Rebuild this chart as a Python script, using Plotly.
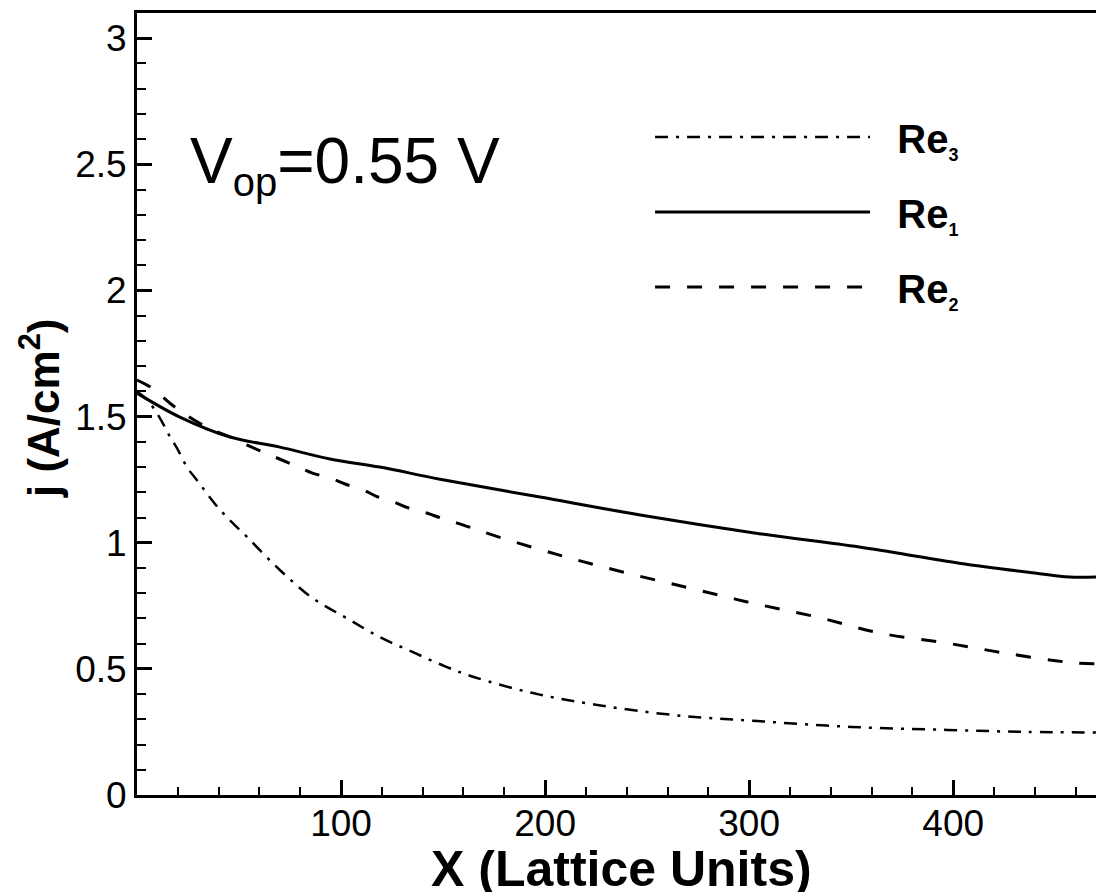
import plotly.graph_objects as go

# ---- data ----
x_re1 = [0, 21, 45.6, 70, 94.6, 119, 148.5, 197.5, 246.6, 305, 354, 403, 440, 457, 470]
y_re1 = [1.593, 1.498, 1.419, 1.379, 1.332, 1.30, 1.252, 1.181, 1.110, 1.036, 0.983, 0.919, 0.880, 0.864, 0.864]

x_re2 = [0, 7.4, 16, 23.5, 35, 47, 54, 64, 71, 79, 86, 95, 102, 111, 117, 126, 133, 142, 149, 157,
         176, 207, 238, 271, 302, 333, 364, 397, 428, 459, 470]
y_re2 = [1.645, 1.613, 1.554, 1.51, 1.455, 1.415, 1.387, 1.352, 1.328, 1.30, 1.276, 1.256, 1.233, 1.209,
         1.185, 1.161, 1.138, 1.118, 1.098, 1.078, 1.026, 0.951, 0.884, 0.82, 0.76, 0.706, 0.642, 0.602,
         0.559, 0.524, 0.52]

x_re3 = [0, 5, 10.8, 15.7, 19.6, 24.5, 29.4, 40.7, 53.9, 70, 86, 103, 119, 135, 151, 165, 194, 225.5,
         263, 304, 350, 397, 436, 470]
y_re3 = [1.60, 1.566, 1.50, 1.427, 1.375, 1.30, 1.248, 1.13, 1.023, 0.892, 0.781, 0.70, 0.626, 0.567,
         0.51, 0.468, 0.404, 0.357, 0.317, 0.293, 0.27, 0.258, 0.25, 0.248]

series_subs = ["3", "1", "2"]

x_tickvals = [100, 200, 300, 400]
x_ticktext = ["100", "200", "300", "400"]
y_tickvals = [0, 0.5, 1, 1.5, 2, 2.5, 3]
y_ticktext = ["0", "0.5", "1", "1.5", "2", "2.5", "3"]

FONT = "Liberation Sans, Arial, sans-serif"


def legend_name(sub):
    return "&nbsp;&nbsp;<b>Re<sub><span style='font-size:18px'>" + sub + "</span></sub></b>"


fig = go.Figure()
fig.add_trace(go.Scatter(x=x_re3, y=y_re3, mode="lines", name=legend_name(series_subs[0]),
                         legendgroup="a",
                         line=dict(color="black", width=2.5, dash="13px,8px,3px,8px", shape="spline")))
fig.add_trace(go.Scatter(x=x_re1, y=y_re1, mode="lines", name=legend_name(series_subs[1]),
                         legendgroup="b",
                         line=dict(color="black", width=3, shape="spline")))
fig.add_trace(go.Scatter(x=x_re2, y=y_re2, mode="lines", name=legend_name(series_subs[2]),
                         legendgroup="c",
                         line=dict(color="black", width=3, dash="15px,17px", shape="spline")))

fig.update_layout(
    width=1096, height=892,
    margin=dict(l=137, r=0, t=13, b=97),
    paper_bgcolor="white", plot_bgcolor="white",
    font=dict(family=FONT, color="black"),
    showlegend=True,
    legend=dict(x=0.535, y=0.883, xanchor="left", yanchor="top",
                font=dict(size=40, family=FONT, color="black"),
                itemwidth=215, tracegroupgap=20, bgcolor="rgba(0,0,0,0)"),
    xaxis=dict(range=[0, 470], showgrid=False, zeroline=False,
               showline=True, linecolor="black", linewidth=3, mirror=True,
               ticks="inside", ticklen=15, tickwidth=3, tickcolor="black",
               tickvals=x_tickvals, ticktext=x_ticktext,
               tickfont=dict(size=37, family=FONT), ticklabelstandoff=-6,
               minor=dict(dtick=20, tick0=0, ticks="inside", ticklen=8, tickwidth=2, tickcolor="black")),
    yaxis=dict(range=[0, 3.1], showgrid=False, zeroline=False,
               showline=True, linecolor="black", linewidth=3, mirror=False,
               ticks="inside", ticklen=15, tickwidth=3, tickcolor="black",
               tickvals=y_tickvals, ticktext=y_ticktext,
               tickfont=dict(size=37, family=FONT),
               minor=dict(dtick=0.1, tick0=0, ticks="inside", ticklen=9, tickwidth=2, tickcolor="black")),
)

fig.add_annotation(text="<b>X (Lattice Units)</b>", xref="paper", yref="paper",
                   x=0.505, y=-0.095, xanchor="center", yanchor="middle", showarrow=False,
                   font=dict(size=50, family=FONT, color="black"))
fig.add_annotation(text="<b>j (A/cm<sup>2</sup>)</b>", xref="paper", yref="paper",
                   x=-0.101, y=0.495, xanchor="center", yanchor="middle", showarrow=False,
                   textangle=-90, font=dict(size=44, family=FONT, color="black"))
fig.add_annotation(text="V<sub><span style='font-size:40px'>op</span></sub>=0.55 V", xref="paper", yref="paper",
                   x=0.0532, y=0.806, xanchor="left", yanchor="middle", showarrow=False,
                   font=dict(size=64, family=FONT, color="black"))

fig.write_html("out.html")
